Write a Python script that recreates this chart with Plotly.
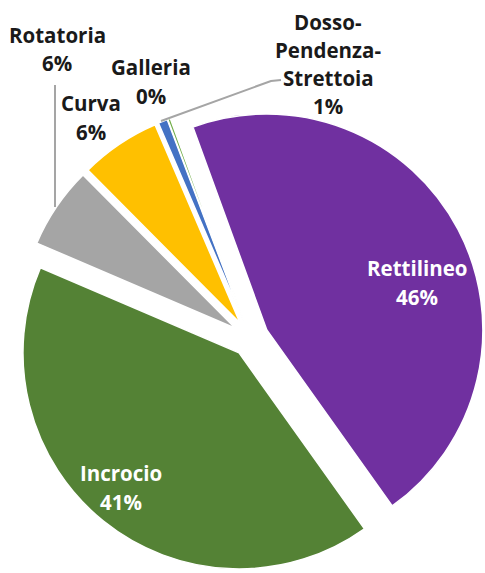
import plotly.graph_objects as go

# Share of accidents by road feature
categories = ["Rettilineo", "Incrocio", "Rotatoria", "Curva",
              "Dosso-Pendenza-Strettoia", "Galleria"]
values = [45.7, 41.3, 6.1, 6.0, 0.7, 0.2]
colors = ["#7030A0", "#548235", "#A5A5A5", "#FFC000", "#4472C4", "#70AD47"]

# label block placement (x centre, y of first line, line step, text colour)
label_pos = {
    "Rettilineo": (417, 268, 29, "white"),
    "Incrocio": (121, 473, 29, "white"),
    "Rotatoria": (57, 35, 28, "#1a1a1a"),
    "Curva": (91, 103, 29, "#1a1a1a"),
    "Dosso-Pendenza-Strettoia": (328, 22, 28, "#1a1a1a"),
    "Galleria": (151, 67, 29, "#1a1a1a"),
}

W, H = 485, 573
FONT = "Open Sans"

fig = go.Figure(go.Pie(
    labels=categories,
    values=values,
    sort=False,
    direction="clockwise",
    rotation=-20,
    pull=0.085,
    marker=dict(colors=colors, line=dict(color="white", width=1.5)),
    textinfo="none",
    hoverinfo="label+percent",
    domain=dict(x=[0.0332, 1.0], y=[0.0, 0.8183]),
    showlegend=False,
))

total = sum(values)
annotations = []
for name, v in zip(categories, values):
    x, y0, step, col = label_pos[name]
    parts = name.split("-")
    lines = [p + "-" for p in parts[:-1]] + [parts[-1]]
    lines.append(f"{round(100 * v / total):d}%")
    for i, line in enumerate(lines):
        annotations.append(dict(
            x=x / W, y=1 - (y0 + i * step) / H,
            xref="paper", yref="paper",
            xanchor="center", yanchor="middle",
            text=f"<b>{line}</b>", showarrow=False,
            font=dict(family=FONT, size=20.5, color=col),
        ))

# leader lines for the small outside labels
shapes = [
    dict(type="line", xref="paper", yref="paper",
         x0=55 / W, y0=1 - 85 / H, x1=55 / W, y1=1 - 207 / H,
         line=dict(color="#A5A5A5", width=2)),
    dict(type="path", xref="paper", yref="paper",
         path=f"M {281 / W} {1 - 80 / H} L {271 / W} {1 - 81 / H} "
              f"L {161 / W} {1 - 121 / H}",
         line=dict(color="#A5A5A5", width=2)),
]

fig.update_layout(
    width=W, height=H,
    margin=dict(l=0, r=0, t=0, b=0),
    paper_bgcolor="white", plot_bgcolor="white",
    annotations=annotations, shapes=shapes,
)

fig.write_html("out.html")
